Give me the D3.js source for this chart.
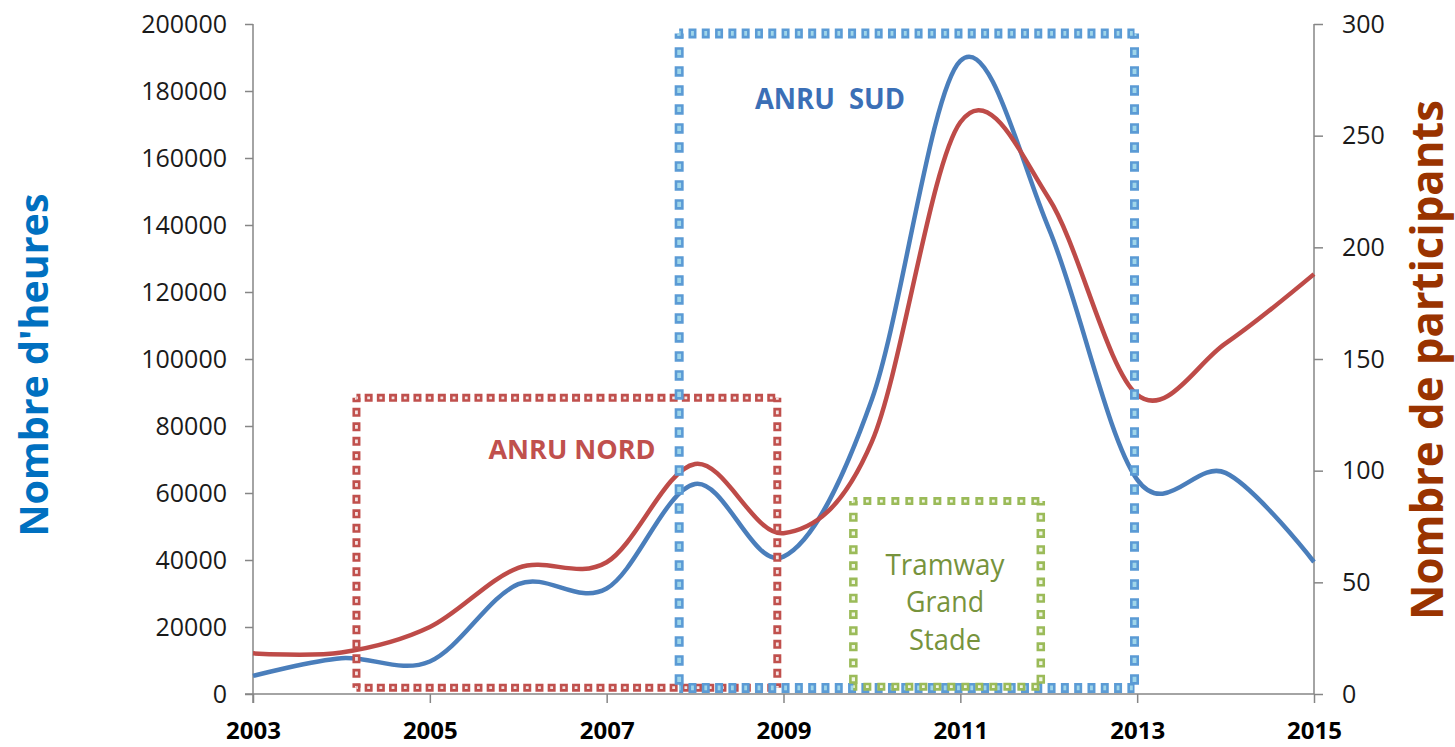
<!DOCTYPE html>
<html>
<head>
<meta charset="utf-8">
<script src="https://cdn.jsdelivr.net/npm/d3@7"></script>
<style>
  body { margin: 0; background: #fff; }
  text { font-family: "Open Sans", "DejaVu Sans", sans-serif; }
</style>
</head>
<body>
<svg id="chart" width="1455" height="747"></svg>
<script>
'use strict';

// yearly values
const years = [2003, 2004, 2005, 2006, 2007, 2008, 2009, 2010, 2011, 2012, 2013, 2014, 2015];
const heures = [5400, 10700, 9700, 32800, 31500, 62700, 41000, 88000, 189000, 139000, 64000, 66000, 39400];
const participants = [18.2, 18.6, 30, 56.5, 59, 103, 72, 113, 256, 222, 134, 157, 188];

const yearTicks = [2003, 2005, 2007, 2009, 2011, 2013, 2015];
const heuresTicks = d3.range(0, 200001, 20000);
const participantsTicks = d3.range(0, 301, 50);

// annotated periods (years on x, hours on y)
const zoneNames = ['ANRU NORD', 'ANRU  SUD', 'Tramway Grand Stade'];
const zoneStart = [2004.17, 2007.82, 2009.79];
const zoneEnd = [2008.93, 2012.97, 2011.91];
const zoneTop = [88400, 197200, 57600];
const zoneBottom = [1900, 1800, 2200];

const svg = d3.select('#chart');

const x = d3.scaleLinear().domain([2003, 2015]).range([253, 1314]);
const yLeft = d3.scaleLinear().domain([0, 200000]).range([694, 24]);
const yRight = d3.scaleLinear().domain([0, 300]).range([694, 24]);

const axisColor = '#868686';

// axes
const gLeft = svg.append('g').attr('transform', `translate(${x.range()[0]},0)`)
  .call(d3.axisLeft(yLeft).tickValues(heuresTicks).tickSize(8).tickPadding(18).tickFormat(d3.format('d')));
const gRight = svg.append('g').attr('transform', `translate(${x.range()[1]},0)`)
  .call(d3.axisRight(yRight).tickValues(participantsTicks).tickSize(9).tickPadding(19).tickFormat(d3.format('d')));
const gBottom = svg.append('g').attr('transform', `translate(0,${yLeft(0)})`)
  .call(d3.axisBottom(x).tickValues(yearTicks).tickSize(9).tickPadding(19).tickFormat(d3.format('d')));

[gLeft, gRight, gBottom].forEach(g => {
  g.select('.domain').attr('stroke', axisColor).attr('stroke-width', 1.5);
  g.selectAll('.tick line').attr('stroke', axisColor).attr('stroke-width', 1.5);
  g.selectAll('.tick text').attr('fill', '#1a1a1a').style('font-size', '25px')
    .style('font-family', '"Open Sans", sans-serif');
});
gLeft.select('.domain').attr('d', `M0,${yLeft(200000)}V${yLeft(0) + 9}`);
gRight.select('.domain').attr('d', `M0,${yRight(300)}V${yRight(0)}`);
gBottom.select('.domain').attr('d', `M${x(2003) - 8},0H${x(2015)}`);
gBottom.selectAll('.tick text').style('font-weight', 'bold').style('font-size', '24px').attr('fill', '#000');

// data lines
const curve = d3.curveCardinal.tension(0);
const lineHeures = d3.line().x((d, i) => x(years[i])).y(d => yLeft(d)).curve(curve);
const lineParticipants = d3.line().x((d, i) => x(years[i])).y(d => yRight(d)).curve(curve);

svg.append('path').datum(heures).attr('d', lineHeures)
  .attr('fill', 'none').attr('stroke', '#4a7ebb').attr('stroke-width', 4.5);
svg.append('path').datum(participants).attr('d', lineParticipants)
  .attr('fill', 'none').attr('stroke', '#be4b48').attr('stroke-width', 4.5);

// square-dotted frames
const frameStyles = [
  { color: '#c0504d', fill: '#f6e4e3', h: { w: 8, dash: 8, period: 12.2 }, v: { w: 8, dash: 9, period: 14.5 } },
  { color: '#5b9bd5', fill: '#9fd6ea', h: { w: 10, dash: 8, period: 13.3 }, v: { w: 9, dash: 10.5, period: 19 } },
  { color: '#9bbb59', fill: '#f1f6e6', h: { w: 8, dash: 8, period: 14 }, v: { w: 8.5, dash: 9, period: 16.2 } }
];

function dottedLine(g, x1, y1, x2, y2, color, fill, s) {
  const b = 2.6;
  const off = s.dash / 2;
  g.append('line').attr('x1', x1).attr('y1', y1).attr('x2', x2).attr('y2', y2)
    .attr('stroke', color).attr('stroke-width', s.w)
    .attr('stroke-dasharray', `${s.dash} ${s.period - s.dash}`)
    .attr('stroke-dashoffset', off);
  g.append('line').attr('x1', x1).attr('y1', y1).attr('x2', x2).attr('y2', y2)
    .attr('stroke', fill).attr('stroke-width', Math.max(s.w - 2 * b, 1))
    .attr('stroke-dasharray', `${s.dash - 2 * b} ${s.period - s.dash + 2 * b}`)
    .attr('stroke-dashoffset', off - b);
}

zoneNames.forEach((name, i) => {
  const st = frameStyles[i];
  const g = svg.append('g').attr('class', 'zone');
  const x0 = x(zoneStart[i]), x1 = x(zoneEnd[i]);
  const y0 = yLeft(zoneTop[i]), y1 = yLeft(zoneBottom[i]);
  dottedLine(g, x0, y0, x0, y1, st.color, st.fill, st.v);
  dottedLine(g, x1, y0, x1, y1, st.color, st.fill, st.v);
  dottedLine(g, x0, y0, x1, y0, st.color, st.fill, st.h);
  dottedLine(g, x0, y1, x1, y1, st.color, st.fill, st.h);
});

// zone labels
svg.append('text').text(zoneNames[0])
  .attr('x', 572).attr('y', 459).attr('text-anchor', 'middle')
  .attr('textLength', 167).attr('lengthAdjust', 'spacingAndGlyphs')
  .style('font-size', '27px').style('font-weight', 'bold').attr('fill', '#c0504d');

svg.append('text').text(zoneNames[1])
  .attr('x', 830).attr('y', 109).attr('text-anchor', 'middle')
  .attr('textLength', 150).attr('lengthAdjust', 'spacingAndGlyphs')
  .style('white-space', 'pre')
  .style('font-size', '29px').style('font-weight', 'bold').attr('fill', '#3b6fb6');

const tramLines = zoneNames[2].split(' ');
const tramBase = [575, 612, 650];
const tramWidths = [119, 78, 72];
tramLines.forEach((t, i) => {
  svg.append('text').text(t)
    .attr('x', 945).attr('y', tramBase[i]).attr('text-anchor', 'middle')
    .attr('textLength', tramWidths[i]).attr('lengthAdjust', 'spacingAndGlyphs')
    .style('font-size', '30px').attr('fill', '#77933c');
});

// axis titles
svg.append('text').text("Nombre d'heures")
  .attr('transform', 'translate(48,365) rotate(-90)')
  .attr('text-anchor', 'middle')
  .attr('textLength', 343).attr('lengthAdjust', 'spacingAndGlyphs')
  .style('font-size', '39px').style('font-weight', 'bold').attr('fill', '#0070c0');

svg.append('text').text('Nombre de participants')
  .attr('transform', 'translate(1443,360) rotate(-90)')
  .attr('text-anchor', 'middle')
  .attr('textLength', 520).attr('lengthAdjust', 'spacingAndGlyphs')
  .style('font-size', '45px').style('font-weight', 'bold').attr('fill', '#993300');
</script>
</body>
</html>
